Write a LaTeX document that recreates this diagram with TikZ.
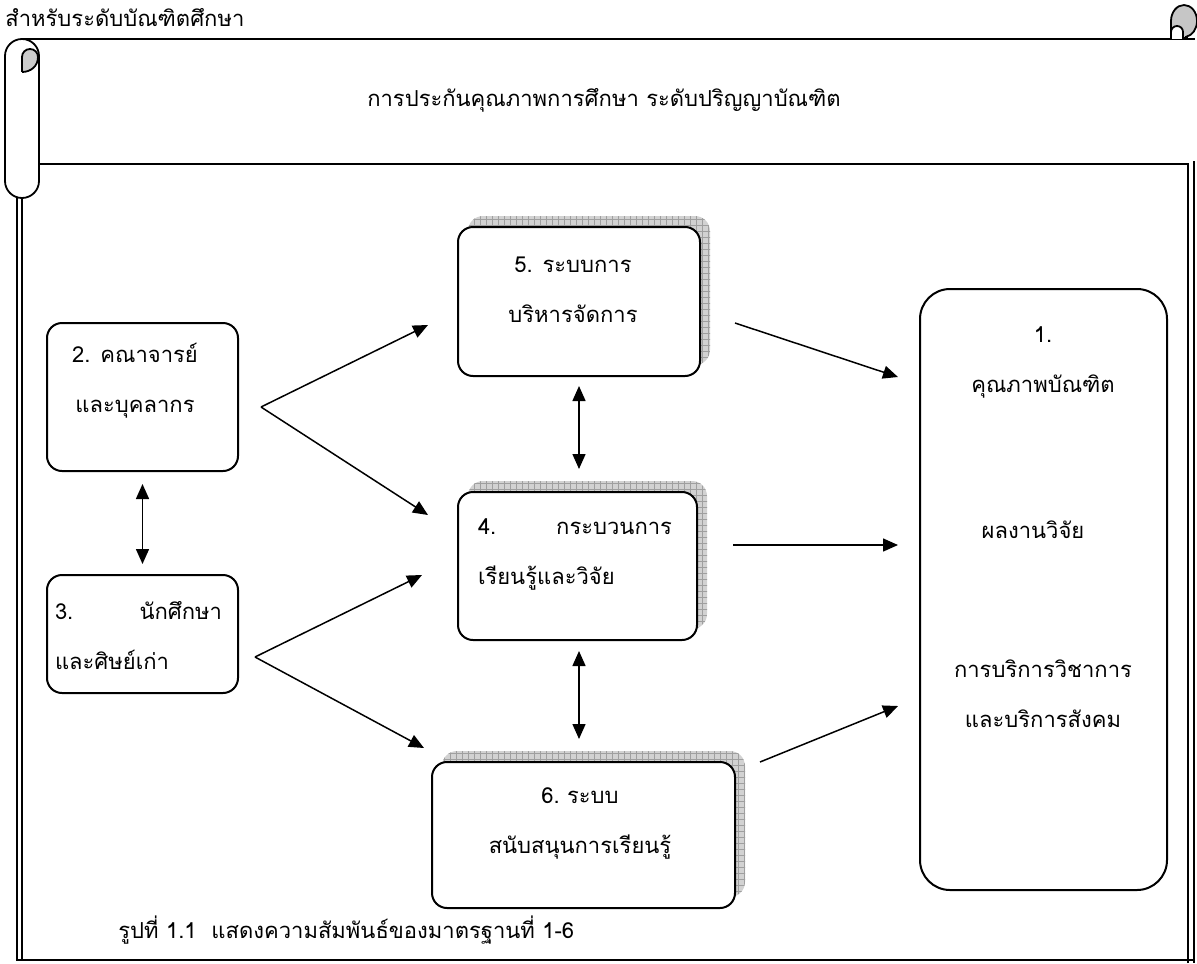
\documentclass[tikz,border=0pt]{standalone}
\usepackage{fontspec}
\setmainfont[Script=Thai]{Loma}
\usetikzlibrary{arrows.meta,shadows,patterns}

\begin{document}
\begin{tikzpicture}[x=0.5pt,y=-0.5pt,
    font=\fontsize{11}{25}\selectfont,
    box/.style={draw,line width=1pt,rounded corners=7.5pt,fill=white,inner sep=0pt},
    gridshadow/.style={general shadow={shadow xshift=5pt,shadow yshift=5.5pt,fill=gray!35,
        postaction={pattern=grid,pattern color=gray!75}}},
    txt/.style={align=center,inner sep=0pt},
    arr/.style={-{Triangle[length=7.5pt,width=6.5pt]},line width=0.75pt},
    dblarr/.style={{Triangle[length=7.5pt,width=6.5pt]}-{Triangle[length=7.5pt,width=6.5pt]},line width=0.75pt},
    frame/.style={line width=0.9pt}
  ]
  \useasboundingbox (0,0) rectangle (1197,963);

  % scroll banner and frame
  \draw[frame] (22,39) -- (1195,39);
  \draw[frame] (39,164) -- (1188,164);
  \draw[frame] (1188,163) -- (1188,963);
  \draw[frame] (1194,161) -- (1194,963);
  \draw[frame] (17,196) -- (17,961);
  \draw[frame] (22,196) -- (22,961);
  \draw[line width=1.3pt] (17,960) -- (1194,960);
  \filldraw[frame,fill=white] (5,56) arc[start angle=180,end angle=360,radius=17]
    -- (39,181) arc[start angle=0,end angle=180,radius=17] -- cycle;
  \filldraw[frame,fill=gray!40] (22,72) -- (22,57) arc[start angle=180,end angle=360,radius=8]
    .. controls (38,66) and (31,72) .. (22,72);
  \filldraw[frame,fill=gray!45] (1171,38) -- (1171,21)
    arc[start angle=180,end angle=440,x radius=13,y radius=16] -- (1187,38) -- cycle;
  \filldraw[frame,fill=white] (1171,39) -- (1171,32)
    arc[start angle=180,end angle=360,radius=6] -- (1183,39);

  \node[txt,anchor=west] (hdr) at (5,18) {สำหรับระดับบัณฑิตศึกษา};
  \node[txt] (title) at (604,100) {การประกันคุณภาพการศึกษา ระดับปริญญาบัณฑิต};

  % boxes
  \node[box,minimum width=95.5pt,minimum height=74pt] (b2) at (142.5,397) {};
  \node[box,minimum width=95.5pt,minimum height=59pt] (b3) at (142.5,634) {};
  \node[box,gridshadow,minimum width=121pt,minimum height=74.5pt] (b5) at (579,301.5) {};
  \node[box,gridshadow,minimum width=119.5pt,minimum height=74pt] (b4) at (577.5,566) {};
  \node[box,gridshadow,minimum width=151.5pt,minimum height=73pt] (b6) at (583.5,835) {};
  \node[box,rounded corners=15pt,minimum width=123.5pt,minimum height=300.5pt] (b1) at (1043.5,589.5) {};

  \node[txt] (t2) at (135,381) {2. คณาจารย์\\และบุคลากร};
  \node[txt,align=left,text width=83.5pt] (t3) at (138.5,636) {3.\hfill นักศึกษา\\และศิษย์เก่า};
  \node[txt] (t5) at (573,290) {5. ระบบการ\\บริหารจัดการ};
  \node[txt,align=left,text width=97pt] (t4) at (575,554) {4.\hfill กระบวนการ\\เรียนรู้และวิจัย};
  \node[txt] (t6) at (580,823) {6.\ ระบบ\\สนับสนุนการเรียนรู้};
  \node[txt] (t1a) at (1043,362) {1.\\คุณภาพบัณฑิต};
  \node[txt] (t1b) at (1033,530) {ผลงานวิจัย};
  \node[txt] (t1c) at (1043,694) {การบริการวิชาการ\\และบริการสังคม};
  \node[txt,anchor=west] (cap) at (118,930) {รูปที่ 1.1\ \ แสดงความสัมพันธ์ของมาตรฐานที่ 1-6};

  % connectors
  \coordinate (f2) at (261,407);
  \coordinate (f3) at (255,657);
  \coordinate (in25) at (428,325);
  \coordinate (in24) at (428,515);
  \coordinate (in34) at (422,575);
  \coordinate (in36) at (424,748);
  \coordinate (out5) at (735,323);
  \coordinate (out4) at (733,545);
  \coordinate (out6) at (760,762);
  \coordinate (in15) at (898,377);
  \coordinate (in14) at (898,545);
  \coordinate (in16) at (898,706);
  \draw[arr] (f2) -- (in25);
  \draw[arr] (f2) -- (in24);
  \draw[arr] (f3) -- (in34);
  \draw[arr] (f3) -- (in36);
  \draw[arr] (out5) -- (in15);
  \draw[arr] (out4) -- (in14);
  \draw[arr] (out6) -- (in16);
  \draw[dblarr,shorten <=6pt,shorten >=5pt] (b2) -- (b3);
  \draw[dblarr,shorten <=4.5pt,shorten >=11pt] (b5.south) -- (b5.south |- b4.north);
  \draw[dblarr,shorten <=5pt,shorten >=11pt] (b5.south |- b4.south) -- (b5.south |- b6.north);
\end{tikzpicture}
\end{document}
